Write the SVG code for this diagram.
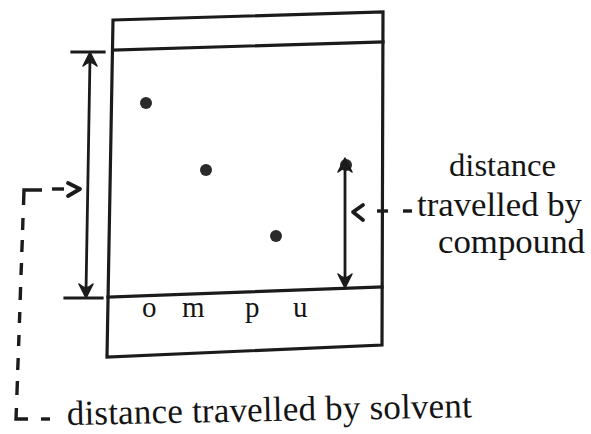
<svg xmlns="http://www.w3.org/2000/svg" width="591" height="434" viewBox="0 0 591 434">
  <style>
    .ln { stroke: #1b1b1b; stroke-width: 3.2; fill: none; stroke-linecap: square; }
    .shaft { stroke: #1b1b1b; stroke-width: 2.8; fill: none; }
    .dash { stroke: #1b1b1b; stroke-width: 3.4; fill: none; stroke-linecap: butt; }
    .chev { stroke: #1b1b1b; stroke-width: 3.8; fill: none; stroke-linecap: round; stroke-linejoin: round; }
    .head { fill: #1b1b1b; stroke: #1b1b1b; stroke-width: 1.5; stroke-linejoin: round; }
    .spot { fill: #2a2a2a; }
    .txt { font-family: "Liberation Serif", "Times New Roman", "DejaVu Serif", serif; fill: #141414; }
  </style>
  <rect width="591" height="434" fill="#ffffff"/>

  <g id="plate">
    <path class="ln" d="M113,20 L383,12 L382,345 L107,357 Z"/>
    <line class="ln" x1="113" y1="50" x2="383" y2="42"/>
    <line class="ln" x1="108" y1="297" x2="382" y2="287"/>
  </g>

  <g id="spots">
    <circle class="spot" cx="146" cy="103" r="6"/>
    <circle class="spot" cx="206" cy="170" r="6"/>
    <circle class="spot" cx="346" cy="165" r="6"/>
    <circle class="spot" cx="276" cy="236" r="6"/>
  </g>

  <g id="origin-labels">
    <text class="txt" font-size="29" y="317"><tspan x="142">o</tspan> <tspan x="182">m</tspan> <tspan x="245">p</tspan> <tspan x="293">u</tspan></text>
  </g>

  <g id="connectors">
    <line class="ln" x1="72" y1="52" x2="104" y2="52"/>
    <line class="ln" x1="65" y1="298" x2="102" y2="298"/>
    <line class="shaft" x1="90" y1="58" x2="86" y2="292"/>
    <path class="head" d="M90,52 L97,66 Q93,62.5 90,62 Q87,62.5 83,66 Z"/>
    <path class="head" d="M86,298 L79,284 Q83,287.5 86,288 Q89,287.5 93,284 Z"/>
    <line class="shaft" x1="345" y1="164" x2="345" y2="282"/>
    <path class="head" d="M345,158 L352,172 Q348,168.5 345,168 Q342,168.5 338,172 Z"/>
    <path class="head" d="M345,288 L338,274 Q342,277.5 345,278 Q348,277.5 352,274 Z"/>

    <polyline class="chev" points="68,183 80,189 68,196"/>
    <line class="dash" x1="64" y1="189" x2="52" y2="189"/>
    <polyline class="dash" points="42,190 24,190 23.5,205"/>
    <line class="dash" x1="23" y1="218" x2="22.6" y2="230"/>
    <line class="dash" x1="22.3" y1="240" x2="21.8" y2="252"/>
    <line class="dash" x1="21.5" y1="263" x2="21" y2="275"/>
    <line class="dash" x1="20.6" y1="287" x2="20.2" y2="300"/>
    <line class="dash" x1="19.8" y1="312" x2="19.4" y2="323"/>
    <line class="dash" x1="19" y1="335" x2="18.6" y2="346"/>
    <line class="dash" x1="18.2" y1="358" x2="17.7" y2="370"/>
    <line class="dash" x1="17.4" y1="381" x2="16.9" y2="395"/>
    <polyline class="dash" points="16.4,408 16,419 28,419"/>
    <line class="dash" x1="41" y1="419" x2="50" y2="419"/>

    <polyline class="chev" points="363,205 353,212 363,220"/>
    <line class="dash" x1="377" y1="211" x2="388" y2="211"/>
    <line class="dash" x1="403" y1="211" x2="412" y2="211"/>
  </g>

  <g id="label-compound">
    <text class="txt" font-size="32" x="449" y="176" textLength="107" lengthAdjust="spacingAndGlyphs">distance</text>
    <text class="txt" font-size="33" x="417" y="216" textLength="165" lengthAdjust="spacingAndGlyphs">travelled by</text>
    <text class="txt" font-size="33" x="438" y="253" textLength="147" lengthAdjust="spacingAndGlyphs">compound</text>
  </g>

  <g id="label-solvent">
    <text class="txt" font-size="35" x="67" y="425" textLength="405" lengthAdjust="spacing" transform="rotate(-1.1 67 425)">distance travelled by solvent</text>
  </g>
</svg>
